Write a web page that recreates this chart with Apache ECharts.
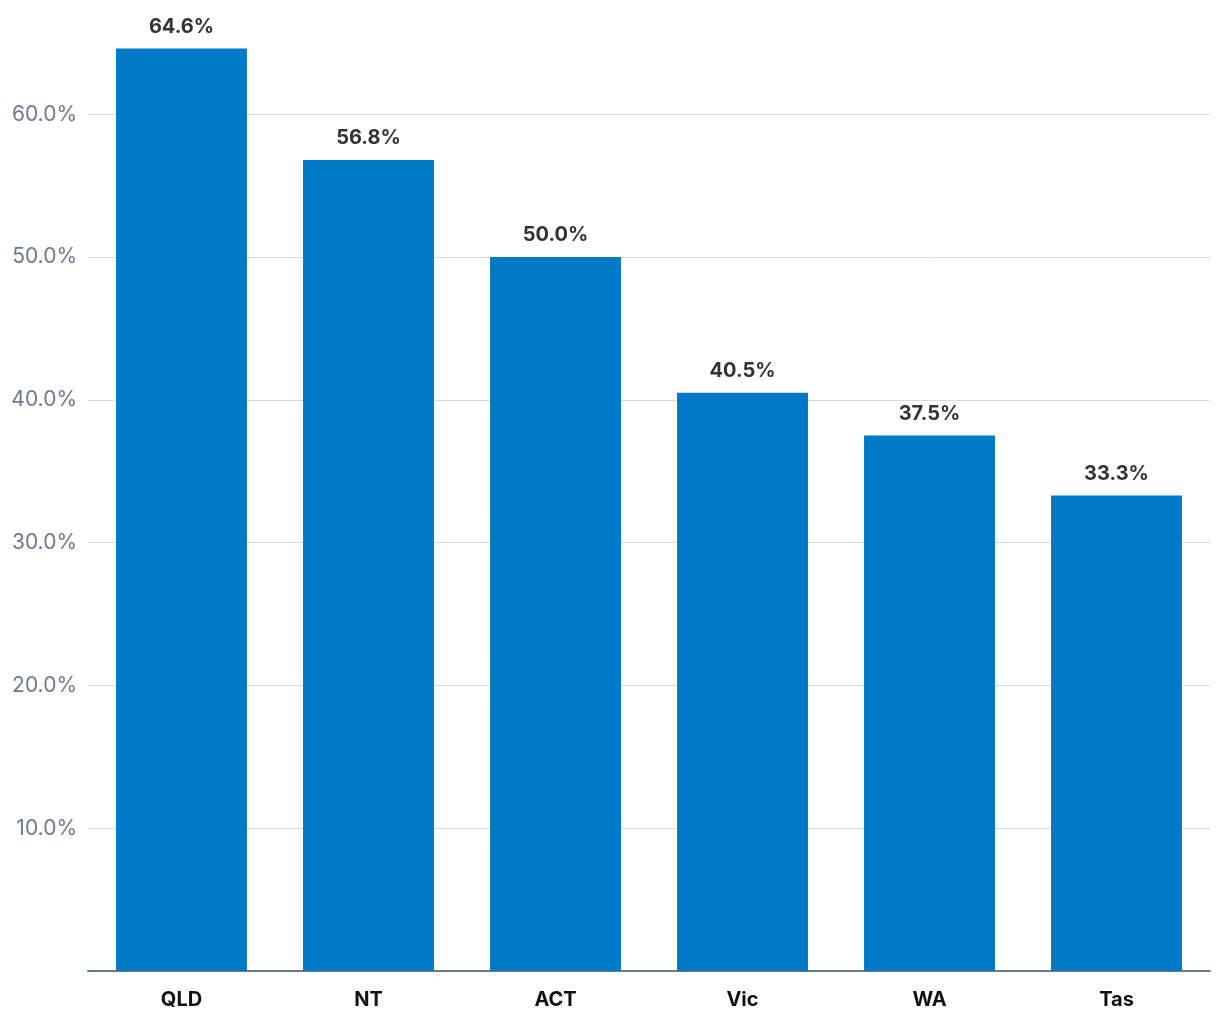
<!DOCTYPE html>
<html><head><meta charset="utf-8">
<script src="https://cdn.jsdelivr.net/npm/echarts@6/dist/echarts.min.js"></script>
<style>html,body{margin:0;padding:0;background:#fff}#c{width:1220px;height:1020px}</style>
</head><body><div id="c"></div>
<script>
const categories = ['QLD', 'NT', 'ACT', 'Vic', 'WA', 'Tas'];
const values = [64.6, 56.8, 50.0, 40.5, 37.5, 33.3];

const chart = echarts.init(document.getElementById('c'));
chart.setOption({
  animation: false,
  grid: { left: 88, right: 10, top: 0, bottom: 49, containLabel: false },
  xAxis: {
    type: 'category',
    data: categories,
    axisLine: { lineStyle: { color: '#6b7a8f', width: 2 } },
    axisTick: { show: false },
    axisLabel: { color: '#111', fontFamily: 'Inter', fontWeight: 'bold', fontSize: 20, margin: 19 }
  },
  yAxis: {
    type: 'value',
    min: 0, max: 68, interval: 10,
    axisLine: { show: false },
    axisTick: { show: false },
    splitLine: { showMaxLine: false, lineStyle: { color: '#d5d9e2', width: 1 } },
    axisLabel: {
      color: '#6b7a8f', fontFamily: 'Inter', fontSize: 21, margin: 11,
      formatter: v => (v === 0 || v % 10 !== 0) ? '' : v.toFixed(1) + '%'
    }
  },
  series: [{
    type: 'bar',
    data: values,
    barCategoryGap: '30%',
    itemStyle: { color: '#0079c6' },
    label: {
      show: true, position: 'top', distance: 12,
      color: '#333', fontFamily: 'Inter', fontWeight: 'bold', fontSize: 20,
      formatter: p => p.value.toFixed(1) + '%'
    }
  }]
});
</script></body></html>
